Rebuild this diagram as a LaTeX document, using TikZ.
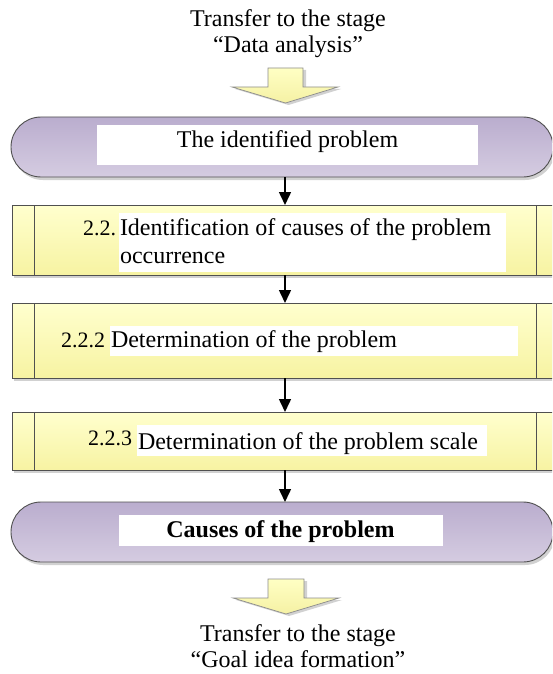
\documentclass[tikz,border=0pt]{standalone}
\usepackage{fontspec}
\setmainfont{Liberation Serif}
\usetikzlibrary{arrows.meta,calc,shadows}

\definecolor{linegray}{HTML}{505050}
\definecolor{termtop}{HTML}{BAADCE}
\definecolor{termbot}{HTML}{D5CCE1}
\definecolor{boxtop}{HTML}{FFFFCE}
\definecolor{boxbot}{HTML}{F7F3A2}
\definecolor{arrtop}{HTML}{FFFFC4}
\definecolor{arrbot}{HTML}{F5F1A4}

\tikzset{
  every node/.style={inner sep=0pt, outer sep=0pt},
  softshadow/.style={drop shadow={shadow xshift=2pt, shadow yshift=-3pt, fill=black!18, opacity=1}},
  term/.style={draw=linegray, line width=0.9pt, rounded corners=30pt,
               top color=termtop, bottom color=termbot, softshadow},
  procbox/.style={draw=linegray, line width=0.9pt,
               top color=boxtop, bottom color=boxbot, softshadow},
  sideline/.style={draw=linegray, line width=0.9pt},
  whitebg/.style={fill=white},
  txt/.style={font=\fontsize{24}{26}\selectfont},
  boldtxt/.style={font=\fontsize{24}{26}\selectfont\bfseries},
  num/.style={font=\fontsize{22}{24}\selectfont},
  flow/.style={-{Triangle[length=13pt,width=12pt]}, line width=1.5pt, black},
  bigarrow/.style={draw=black!45, line width=0.7pt, top color=arrtop, bottom color=arrbot,
               drop shadow={shadow xshift=3pt, shadow yshift=-2pt, fill=black!18, opacity=1}}
}

\begin{document}
\begin{tikzpicture}[x=1pt, y=-1pt]
  \useasboundingbox (0,0) rectangle (552,674);
  \clip (0,0) rectangle (552,674);

  % incoming stage
  \node[txt, anchor=base] (intxt1) at (288,27) {Transfer to the stage};
  \node[txt, anchor=base] (intxt2) at (288,53) {“Data analysis”};
  \path[bigarrow] (268,68) -- (303,68) -- (303,87) -- (338,87) -- (285.5,103)
                  -- (232,87) -- (268,87) -- cycle;

  % start terminator
  \node[term, minimum width=542pt, minimum height=60pt, anchor=north west] (t1) at (11,117) {};
  \node[whitebg, minimum width=381pt, minimum height=40pt, anchor=north west] (w1) at (97,125) {};
  \node[txt, anchor=base] (t1txt) at (287.5,147) {The identified problem};

  % process 2.2
  \node[procbox, minimum width=546pt, minimum height=70pt, anchor=north west] (b1) at (12,205) {};
  \node[whitebg, minimum width=387pt, minimum height=59pt, anchor=north west] (w2) at (119,213) {};
  \node[num, anchor=base east] (n1) at (116,235) {2.2.};
  \node[txt, anchor=base west] (b1txta) at (120,235) {Identification of causes of the problem};
  \node[txt, anchor=base west] (b1txtb) at (120,263) {occurrence};

  % process 2.2.2
  \node[procbox, minimum width=546pt, minimum height=75pt, anchor=north west] (b2) at (12,303) {};
  \node[whitebg, minimum width=408pt, minimum height=30pt, anchor=north west] (w3) at (110,326) {};
  \node[num, anchor=base east] (n2) at (105,347) {2.2.2};
  \node[txt, anchor=base west] (b2txt) at (111,347) {Determination of the problem};

  % process 2.2.3
  \node[procbox, minimum width=546pt, minimum height=58pt, anchor=north west] (b3) at (12,412) {};
  \node[whitebg, minimum width=350pt, minimum height=31pt, anchor=north west] (w4) at (137,425) {};
  \node[num, anchor=base east] (n3) at (132,445) {2.2.3};
  \node[txt, anchor=base west] (b3txt) at (138,449) {Determination of the problem scale};

  % side bars of the process boxes
  \foreach \b in {b1,b2,b3}{
    \draw[sideline] ($(\b.north west)+(22,0)$) -- ($(\b.south west)+(22,0)$);
    \draw[sideline] ($(\b.north east)+(-22,0)$) -- ($(\b.south east)+(-22,0)$);
  }

  % end terminator
  \node[term, minimum width=542pt, minimum height=60pt, anchor=north west] (t2) at (11,502) {};
  \node[whitebg, minimum width=324pt, minimum height=31pt, anchor=north west] (w5) at (119,515) {};
  \node[boldtxt, anchor=base] (t2txt) at (280.5,537) {Causes of the problem};

  % flow connectors
  \draw[flow] (t1.south -| b1.north) -- (b1.north);
  \draw[flow] (b1.south) -- (b2.north);
  \draw[flow] (b2.south) -- (b3.north);
  \draw[flow] (b3.south) -- (b3.south |- t2.north);

  % outgoing stage
  \path[bigarrow] (268,579) -- (304,579) -- (304,598) -- (339,598) -- (286,614)
                  -- (233,598) -- (268,598) -- cycle;
  \node[txt, anchor=base] (outtxt1) at (298,641) {Transfer to the stage};
  \node[txt, anchor=base] (outtxt2) at (298,667) {“Goal idea formation”};
\end{tikzpicture}
\end{document}
